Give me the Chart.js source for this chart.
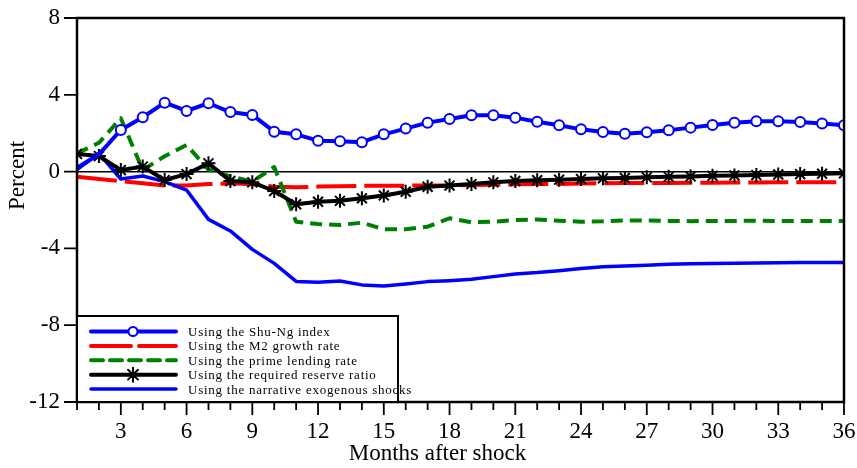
<!DOCTYPE html>
<html>
<head>
<meta charset="utf-8">
<script src="https://cdn.jsdelivr.net/npm/chart.js@4.4.1/dist/chart.umd.min.js"></script>
<style>
  html, body { margin: 0; padding: 0; background: #fff; }
  #wrap { width: 857px; height: 468px; }
</style>
</head>
<body>
<div id="wrap"><canvas id="irf"></canvas></div>
<script>
// months after shock
const months = [1,2,3,4,5,6,7,8,9,10,11,12,13,14,15,16,17,18,19,20,21,22,23,24,25,26,27,28,29,30,31,32,33,34,35,36];
const xTickLabels = [3,6,9,12,15,18,21,24,27,30,33,36];
const yTickLabels = [-12,-8,-4,0,4,8];

const seriesNames = [
  'Using the Shu-Ng index',
  'Using the M2 growth rate',
  'Using the prime lending rate',
  'Using the required reserve ratio',
  'Using the narrative exogenous shocks'
];

const shuNg = [0.2,0.9,2.17,2.83,3.59,3.16,3.56,3.1,2.95,2.08,1.94,1.61,1.58,1.53,1.94,2.24,2.55,2.74,2.93,2.93,2.81,2.6,2.41,2.2,2.06,1.97,2.05,2.15,2.29,2.43,2.55,2.62,2.62,2.58,2.5,2.41];
const m2Growth = [-0.27,-0.39,-0.49,-0.61,-0.73,-0.73,-0.65,-0.61,-0.66,-0.79,-0.82,-0.78,-0.76,-0.74,-0.74,-0.73,-0.73,-0.72,-0.7,-0.68,-0.66,-0.65,-0.64,-0.62,-0.61,-0.6,-0.6,-0.59,-0.58,-0.58,-0.57,-0.57,-0.56,-0.56,-0.56,-0.55];
const primeLending = [0.95,1.5,2.78,0.08,0.8,1.39,0.1,-0.25,-0.52,0.24,-2.61,-2.73,-2.78,-2.66,-3.0,-3.0,-2.87,-2.43,-2.64,-2.61,-2.52,-2.49,-2.56,-2.61,-2.59,-2.54,-2.55,-2.57,-2.58,-2.57,-2.57,-2.56,-2.57,-2.57,-2.57,-2.57];
const reserveRatio = [0.92,0.81,0.08,0.26,-0.44,-0.13,0.43,-0.49,-0.56,-1.01,-1.7,-1.57,-1.52,-1.39,-1.24,-1.05,-0.79,-0.73,-0.65,-0.56,-0.49,-0.45,-0.42,-0.39,-0.35,-0.33,-0.3,-0.27,-0.25,-0.22,-0.2,-0.18,-0.15,-0.13,-0.11,-0.09];
const narrative = [0.1,0.95,-0.39,-0.23,-0.52,-0.96,-2.49,-3.09,-4.05,-4.78,-5.72,-5.76,-5.7,-5.9,-5.96,-5.85,-5.73,-5.68,-5.61,-5.47,-5.33,-5.26,-5.16,-5.05,-4.95,-4.92,-4.88,-4.83,-4.8,-4.78,-4.77,-4.76,-4.75,-4.74,-4.74,-4.73];

const FONT = '"Liberation Serif", "Times New Roman", serif';

const toPoints = vals => months.map((m, i) => ({ x: m, y: vals[i] }));

// 凡例の線と記号
function drawMarker(ctx, style, x, y) {
  ctx.save();
  if (style === 'circle') {
    ctx.beginPath();
    ctx.arc(x, y, 4.5, 0, Math.PI * 2);
    ctx.fillStyle = '#fff';
    ctx.fill();
    ctx.lineWidth = 2;
    ctx.strokeStyle = '#0000ff';
    ctx.stroke();
  } else if (style === 'star') {
    ctx.strokeStyle = '#000';
    ctx.lineWidth = 2;
    const r = 7;
    ctx.beginPath();
    for (let k = 0; k < 4; k++) {
      const a = k * Math.PI / 4;
      ctx.moveTo(x - r * Math.cos(a), y - r * Math.sin(a));
      ctx.lineTo(x + r * Math.cos(a), y + r * Math.sin(a));
    }
    ctx.stroke();
  }
  ctx.restore();
}

const frameAndTicks = {
  id: 'frameAndTicks',
  afterDatasetsDraw(chart) {
    const { ctx, chartArea } = chart;
    const xs = chart.scales.x, ys = chart.scales.y;
    ctx.save();
    ctx.strokeStyle = '#000';
    ctx.lineWidth = 2.5;
    ctx.strokeRect(chartArea.left, chartArea.top, chartArea.right - chartArea.left, chartArea.bottom - chartArea.top);
    ctx.lineWidth = 1.8;
    ctx.beginPath();
    months.forEach(m => {
      const px = xs.getPixelForValue(m);
      const len = xTickLabels.includes(m) ? 13 : 8;
      ctx.moveTo(px, chartArea.bottom);
      ctx.lineTo(px, chartArea.bottom + len);
    });
    yTickLabels.forEach(v => {
      const py = ys.getPixelForValue(v);
      ctx.moveTo(chartArea.left, py);
      ctx.lineTo(chartArea.left - 13, py);
    });
    ctx.stroke();

    // 軸タイトル
    ctx.fillStyle = '#000';
    ctx.textAlign = 'center';
    ctx.textBaseline = 'middle';
    ctx.font = '23px ' + FONT;
    ctx.fillText('Months after shock', xs.getPixelForValue(17.45), 454);
    ctx.save();
    ctx.translate(18, ys.getPixelForValue(-0.2));
    ctx.rotate(-Math.PI / 2);
    ctx.font = '23px ' + FONT;
    ctx.fillText('Percent', 0, 0);
    ctx.restore();
    ctx.restore();
  }
};

const boxLegend = {
  id: 'boxLegend',
  afterDraw(chart) {
    const { ctx, chartArea } = chart;
    const x0 = chartArea.left, w = 321, h = 86;
    const y0 = chartArea.bottom - h;
    ctx.save();
    ctx.fillStyle = '#fff';
    ctx.fillRect(x0, y0, w, h);
    ctx.strokeStyle = '#000';
    ctx.lineWidth = 2;
    ctx.strokeRect(x0, y0, w, h);
    chart.data.datasets.forEach((ds, i) => {
      const y = y0 + 15.5 + i * 14.4;
      ctx.beginPath();
      ctx.setLineDash(ds.borderDash || []);
      ctx.strokeStyle = ds.borderColor;
      ctx.lineWidth = ds.borderWidth;
      ctx.lineCap = 'round';
      ctx.moveTo(x0 + 14, y);
      ctx.lineTo(x0 + 99, y);
      ctx.stroke();
      ctx.setLineDash([]);
      drawMarker(ctx, ds.legendMarker, x0 + 56, y);
      ctx.fillStyle = '#000';
      ctx.font = '13px ' + FONT;
      ctx.letterSpacing = '0.75px';
      ctx.textBaseline = 'middle';
      ctx.fillText(ds.label, x0 + 111, y + 1);
    });
    ctx.restore();
  }
};

const ctx = document.getElementById('irf').getContext('2d');

new Chart(ctx, {
  type: 'line',
  data: {
    datasets: [
      {
        label: seriesNames[0],
        data: toPoints(shuNg),
        borderColor: '#0000ff',
        borderWidth: 4,
        pointStyle: 'circle',
        pointRadius: c => c.dataIndex < 2 ? 0 : 5,
        pointBackgroundColor: '#fff',
        pointBorderColor: '#0000ff',
        pointBorderWidth: 2,
        legendMarker: 'circle',
        order: 0
      },
      {
        label: seriesNames[1],
        data: toPoints(m2Growth),
        borderColor: '#ff0000',
        borderWidth: 4,
        borderDash: [40, 8],
        pointRadius: 0,
        order: 4
      },
      {
        label: seriesNames[2],
        data: toPoints(primeLending),
        borderColor: '#008000',
        borderWidth: 4,
        borderDash: [12, 7],
        pointRadius: 0,
        order: 3
      },
      {
        label: seriesNames[3],
        data: toPoints(reserveRatio),
        borderColor: '#000000',
        borderWidth: 4,
        pointStyle: 'star',
        pointRadius: 7,
        pointBorderColor: '#000',
        pointBorderWidth: 2,
        legendMarker: 'star',
        order: 1
      },
      {
        label: seriesNames[4],
        data: toPoints(narrative),
        borderColor: '#0000ff',
        borderWidth: 3.5,
        pointRadius: 0,
        order: 2
      }
    ]
  },
  options: {
    responsive: true,
    maintainAspectRatio: false,
    animation: false,
    layout: { padding: { top: 18, right: 13, left: 0, bottom: 0 } },
    elements: { line: { tension: 0, borderCapStyle: 'butt', borderJoinStyle: 'round' } },
    plugins: {
      legend: { display: false },
      tooltip: { enabled: false }
    },
    scales: {
      x: {
        type: 'linear',
        min: 1,
        max: 36,
        afterBuildTicks: s => { s.ticks = xTickLabels.map(v => ({ value: v })); },
        afterFit: s => { s.height = 66; s.paddingLeft = 0; s.paddingRight = 0; },
        grid: { display: false, drawTicks: false },
        border: { display: false },
        ticks: {
          autoSkip: false,
          maxRotation: 0,
          padding: 16,
          color: '#000',
          font: { family: FONT, size: 23 }
        }
      },
      y: {
        min: -12,
        max: 8,
        afterBuildTicks: s => { s.ticks = yTickLabels.map(v => ({ value: v })); },
        afterFit: s => { s.width = 77; s.paddingTop = 0; s.paddingBottom = 0; },
        grid: {
          drawTicks: false,
          color: c => c.tick && c.tick.value === 0 ? '#000' : 'rgba(0,0,0,0)',
          lineWidth: 1.5
        },
        border: { display: false },
        ticks: {
          padding: 17,
          color: '#000',
          font: { family: FONT, size: 23 }
        }
      }
    }
  },
  plugins: [frameAndTicks, boxLegend]
});
</script>
</body>
</html>
